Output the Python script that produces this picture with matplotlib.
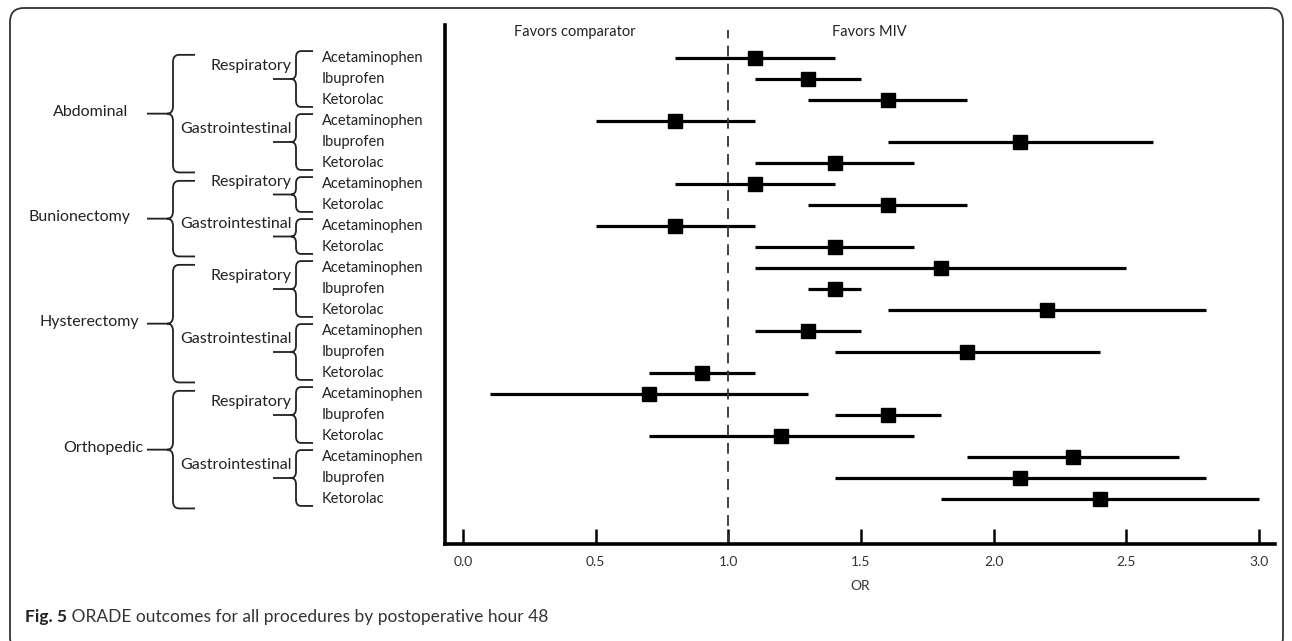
import numpy as np
import matplotlib.pyplot as plt
from matplotlib.path import Path
from matplotlib.patches import PathPatch, FancyBboxPatch

plt.rcParams['font.family'] = ['Lato', 'DejaVu Sans']

# data: one entry per outcome group
group_procedure = ["Abdominal", "Abdominal", "Bunionectomy", "Bunionectomy",
                   "Hysterectomy", "Hysterectomy", "Orthopedic", "Orthopedic"]
group_outcome = ["Respiratory", "Gastrointestinal"] * 4
group_drugs = [
    ["Acetaminophen", "Ibuprofen", "Ketorolac"],
    ["Acetaminophen", "Ibuprofen", "Ketorolac"],
    ["Acetaminophen", "Ketorolac"],
    ["Acetaminophen", "Ketorolac"],
    ["Acetaminophen", "Ibuprofen", "Ketorolac"],
    ["Acetaminophen", "Ibuprofen", "Ketorolac"],
    ["Acetaminophen", "Ibuprofen", "Ketorolac"],
    ["Acetaminophen", "Ibuprofen", "Ketorolac"],
]
or_est = [[1.1, 1.3, 1.6], [0.8, 2.1, 1.4], [1.1, 1.6], [0.8, 1.4],
          [1.8, 1.4, 2.2], [1.3, 1.9, 0.9], [0.7, 1.6, 1.2], [2.3, 2.1, 2.4]]
ci_low = [[0.8, 1.1, 1.3], [0.5, 1.6, 1.1], [0.8, 1.3], [0.5, 1.1],
          [1.1, 1.3, 1.6], [1.1, 1.4, 0.7], [0.1, 1.4, 0.7], [1.9, 1.4, 1.8]]
ci_high = [[1.4, 1.5, 1.9], [1.1, 2.6, 1.7], [1.4, 1.9], [1.1, 1.7],
           [2.5, 1.5, 2.8], [1.5, 2.4, 1.1], [1.3, 1.8, 1.7], [2.7, 2.8, 3.0]]
x_ticks = [0.0, 0.5, 1.0, 1.5, 2.0, 2.5, 3.0]

W, H = 1292, 641
fig = plt.figure(figsize=(W / 100, H / 100), dpi=100)

# main forest plot axes (pixel layout)
left, right, top, bottom = 445, 1275, 25, 544
rect = [left / W, 1 - bottom / H, (right - left) / W, (bottom - top) / H]
ax = fig.add_axes(rect)
row_px0, row_step = 58, 21
ylim = ((bottom - row_px0) / row_step, (top - row_px0) / row_step)

est = np.concatenate(or_est)
lo = np.concatenate(ci_low)
hi = np.concatenate(ci_high)
rows = np.arange(len(est))

ax.hlines(rows, lo, hi, color='black', lw=2.3)
ax.plot(est, rows, 's', color='black', ms=10)
ax.axvline(1.0, ymin=0, ymax=0.99, color='#333333', lw=1.3, ls=(0, (6, 4)))

ax.set_xlim(-0.068, 3.06)
ax.set_ylim(*ylim)
ax.set_yticks([])
ax.set_xticks(x_ticks)
ax.set_xticklabels([f"{t:.1f}" for t in x_ticks], fontsize=10, color='#333333')
ax.tick_params(axis='x', direction='in', length=11, width=1.8, pad=9)
for s in ['top', 'right']:
    ax.spines[s].set_visible(False)
for s in ['left', 'bottom']:
    ax.spines[s].set_linewidth(2.6)
ax.set_xlabel("OR", fontsize=10, color='#333333', labelpad=8)
ax.text(0.42, -1.25, "Favors comparator", ha='center', va='center', fontsize=10.5, color='#222222')
ax.text(1.53, -1.25, "Favors MIV", ha='center', va='center', fontsize=10.5, color='#222222')

# overlay axes for the label hierarchy: x in figure pixels, y in row units
ov = fig.add_axes([0, rect[1], 1, rect[3]])
ov.set_xlim(0, W)
ov.set_ylim(*ylim)
ov.axis('off')


def brace(x_v, x_end, x_stem, y0, y1, cx, cy, lw=1.3):
    ym = (y0 + y1) / 2
    verts = [(x_end, y0), (x_v + cx, y0), (x_v, y0), (x_v, y0 + cy),
             (x_v, ym - cy), (x_v, ym), (x_v - cx, ym),
             (x_v, ym), (x_v, ym + cy),
             (x_v, y1 - cy), (x_v, y1), (x_v + cx, y1), (x_end, y1),
             (x_v - cx, ym), (x_stem, ym)]
    codes = [Path.MOVETO, Path.LINETO, Path.CURVE3, Path.CURVE3,
             Path.LINETO, Path.CURVE3, Path.CURVE3,
             Path.CURVE3, Path.CURVE3,
             Path.LINETO, Path.CURVE3, Path.CURVE3, Path.LINETO,
             Path.MOVETO, Path.LINETO]
    ov.add_patch(PathPatch(Path(verts, codes), fill=False, lw=lw,
                           color='#222222', clip_on=False))
    return ym


proc_label_x = {"Abdominal": 128, "Bunionectomy": 131, "Hysterectomy": 139, "Orthopedic": 143}
start = 0
proc_rows = {}
for proc, outc, drugs in zip(group_procedure, group_outcome, group_drugs):
    r = np.arange(start, start + len(drugs))
    for ri, d in zip(r, drugs):
        ov.text(322, ri, d, ha='left', va='center', fontsize=10.5, color='#222222')
    ym = brace(296, 313, 273, r[0] - 0.33, r[-1] + 0.33, 5, 0.3)
    ov.text(292, ym - 0.6, outc, ha='right', va='center', fontsize=11.5, color='#222222')
    proc_rows.setdefault(proc, []).extend(r)
    start += len(drugs)

for proc, r in proc_rows.items():
    ym = brace(173, 195, 147, r[0] - 0.15, r[-1] + 0.45, 6, 0.35)
    ov.text(proc_label_x[proc], ym - 0.1, proc, ha='right', va='center',
            fontsize=11.5, color='#222222')

# figure frame and caption
fig.patches.append(FancyBboxPatch((0.1, -0.1), 12.73, 6.43,
                                  boxstyle="round,pad=0,rounding_size=0.14",
                                  transform=fig.dpi_scale_trans, fill=False,
                                  ec='#333333', lw=1.3))
cap = fig.text(25 / W, 1 - 617 / H, "Fig. 5", fontsize=12.5, weight='bold',
               va='center', ha='left', color='#222222')
ax.annotate(" ORADE outcomes for all procedures by postoperative hour 48",
            xy=(1, 0), xycoords=cap, va='bottom', ha='left', fontsize=12.5,
            color='#333333', annotation_clip=False)

fig.savefig("out.png", dpi=100)
